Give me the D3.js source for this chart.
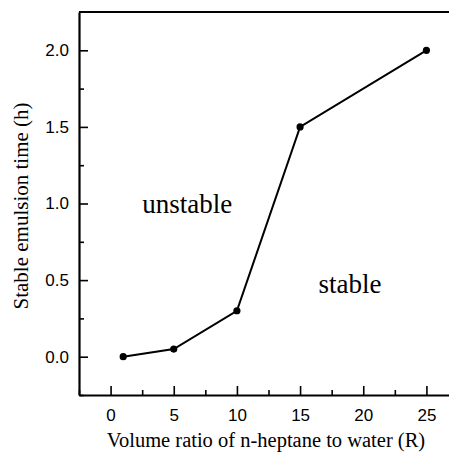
<!DOCTYPE html>
<html lang="en">
<head>
  <meta charset="UTF-8">
  <title>Stable emulsion time</title>
  <script src="https://d3js.org/d3.v7.min.js"></script>
  <style>
    body { margin: 0; background: #fff; }
  </style>
</head>
<body>
  <div class="canvas"></div>
  <script>
    // data
    const ratios = [1, 5, 10, 15, 25];
    const times = [0, 0.05, 0.3, 1.5, 2.0];
    const xTicks = [0, 5, 10, 15, 20, 25];
    const xMinor = [-2.5, 2.5, 7.5, 12.5, 17.5, 22.5, 27.5];
    const yTicks = [0, 0.5, 1.0, 1.5, 2.0];
    const yMinor = [-0.25, 0.25, 0.75, 1.25, 1.75];
    const regionNames = ['unstable', 'stable'];
    const regionX = [2.5, 16.45];
    const regionY = [0.94, 0.415];

    const width = 449;
    const height = 454;
    const [mt, ml] = [12, 79];

    const svg = d3.select('.canvas')
                  .append('svg')
                  .attr('width', width)
                  .attr('height', height);

    const x = d3.scaleLinear()
                .domain([-2.5, 27.5])
                .range([ml, ml + 379]);

    const y = d3.scaleLinear()
                .domain([-0.25, 2.25])
                .range([395, mt]);

    // minor ticks first
    svg.append('g')
      .attr('transform', `translate(0, ${y(-0.25)})`)
      .call(d3.axisBottom(x).tickValues(xMinor).tickSize(-5).tickSizeOuter(0).tickFormat(''))
      .call(g => g.select('.domain').remove());

    svg.append('g')
      .attr('transform', `translate(${ml}, 0)`)
      .call(d3.axisLeft(y).tickValues(yMinor).tickSize(-5).tickSizeOuter(0).tickFormat(''))
      .call(g => g.select('.domain').remove());

    // main axes, ticks pointing inward
    const xAxis = svg.append('g')
      .attr('transform', `translate(0, ${y(-0.25)})`)
      .call(d3.axisBottom(x).tickValues(xTicks).tickSize(-9).tickSizeOuter(0).tickPadding(14));

    const yAxis = svg.append('g')
      .attr('transform', `translate(${ml}, 0)`)
      .call(d3.axisLeft(y).tickValues(yTicks).tickSize(-9).tickSizeOuter(0).tickPadding(10)
              .tickFormat(d3.format('.1f')));

    svg.selectAll('.tick line').attr('stroke', '#000').attr('stroke-width', 1.6);
    svg.selectAll('.domain').attr('stroke', '#000').attr('stroke-width', 2.2);
    svg.selectAll('.tick text')
      .attr('fill', '#000')
      .style('font-family', '"Liberation Sans", Arial, sans-serif')
      .style('font-size', '17px');
    xAxis.selectAll('.tick text').attr('dy', '0.71em');

    // top frame line
    svg.append('line')
      .attr('x1', ml).attr('x2', width)
      .attr('y1', y(2.25)).attr('y2', y(2.25))
      .attr('stroke', '#000').attr('stroke-width', 2.2);

    const pts = ratios.map((r, i) => [r, times[i]]);

    svg.append('path')
      .datum(pts)
      .attr('fill', 'none')
      .attr('stroke', '#000')
      .attr('stroke-width', 2)
      .attr('d', d3.line().x(d => x(d[0])).y(d => y(d[1])));

    svg.selectAll('circle.pt')
      .data(pts)
      .enter()
      .append('circle')
      .attr('class', 'pt')
      .attr('cx', d => x(d[0]))
      .attr('cy', d => y(d[1]))
      .attr('r', 3.6)
      .attr('fill', '#000');

    // region labels
    svg.selectAll('text.region')
      .data(regionNames)
      .enter()
      .append('text')
      .attr('class', 'region')
      .attr('x', (d, i) => x(regionX[i]))
      .attr('y', (d, i) => y(regionY[i]))
      .style('font-family', '"Liberation Serif", "Times New Roman", serif')
      .style('font-size', '27px')
      .text(d => d);

    // axis titles
    svg.append('text')
      .attr('x', 266)
      .attr('y', 447)
      .attr('text-anchor', 'middle')
      .style('font-family', '"Liberation Serif", "Times New Roman", serif')
      .style('font-size', '20.5px')
      .text('Volume ratio of n-heptane to water (R)');

    svg.append('text')
      .attr('transform', 'translate(28, 206) rotate(-90)')
      .attr('text-anchor', 'middle')
      .style('font-family', '"Liberation Serif", "Times New Roman", serif')
      .style('font-size', '21px')
      .text('Stable emulsion time (h)');
  </script>
</body>
</html>
